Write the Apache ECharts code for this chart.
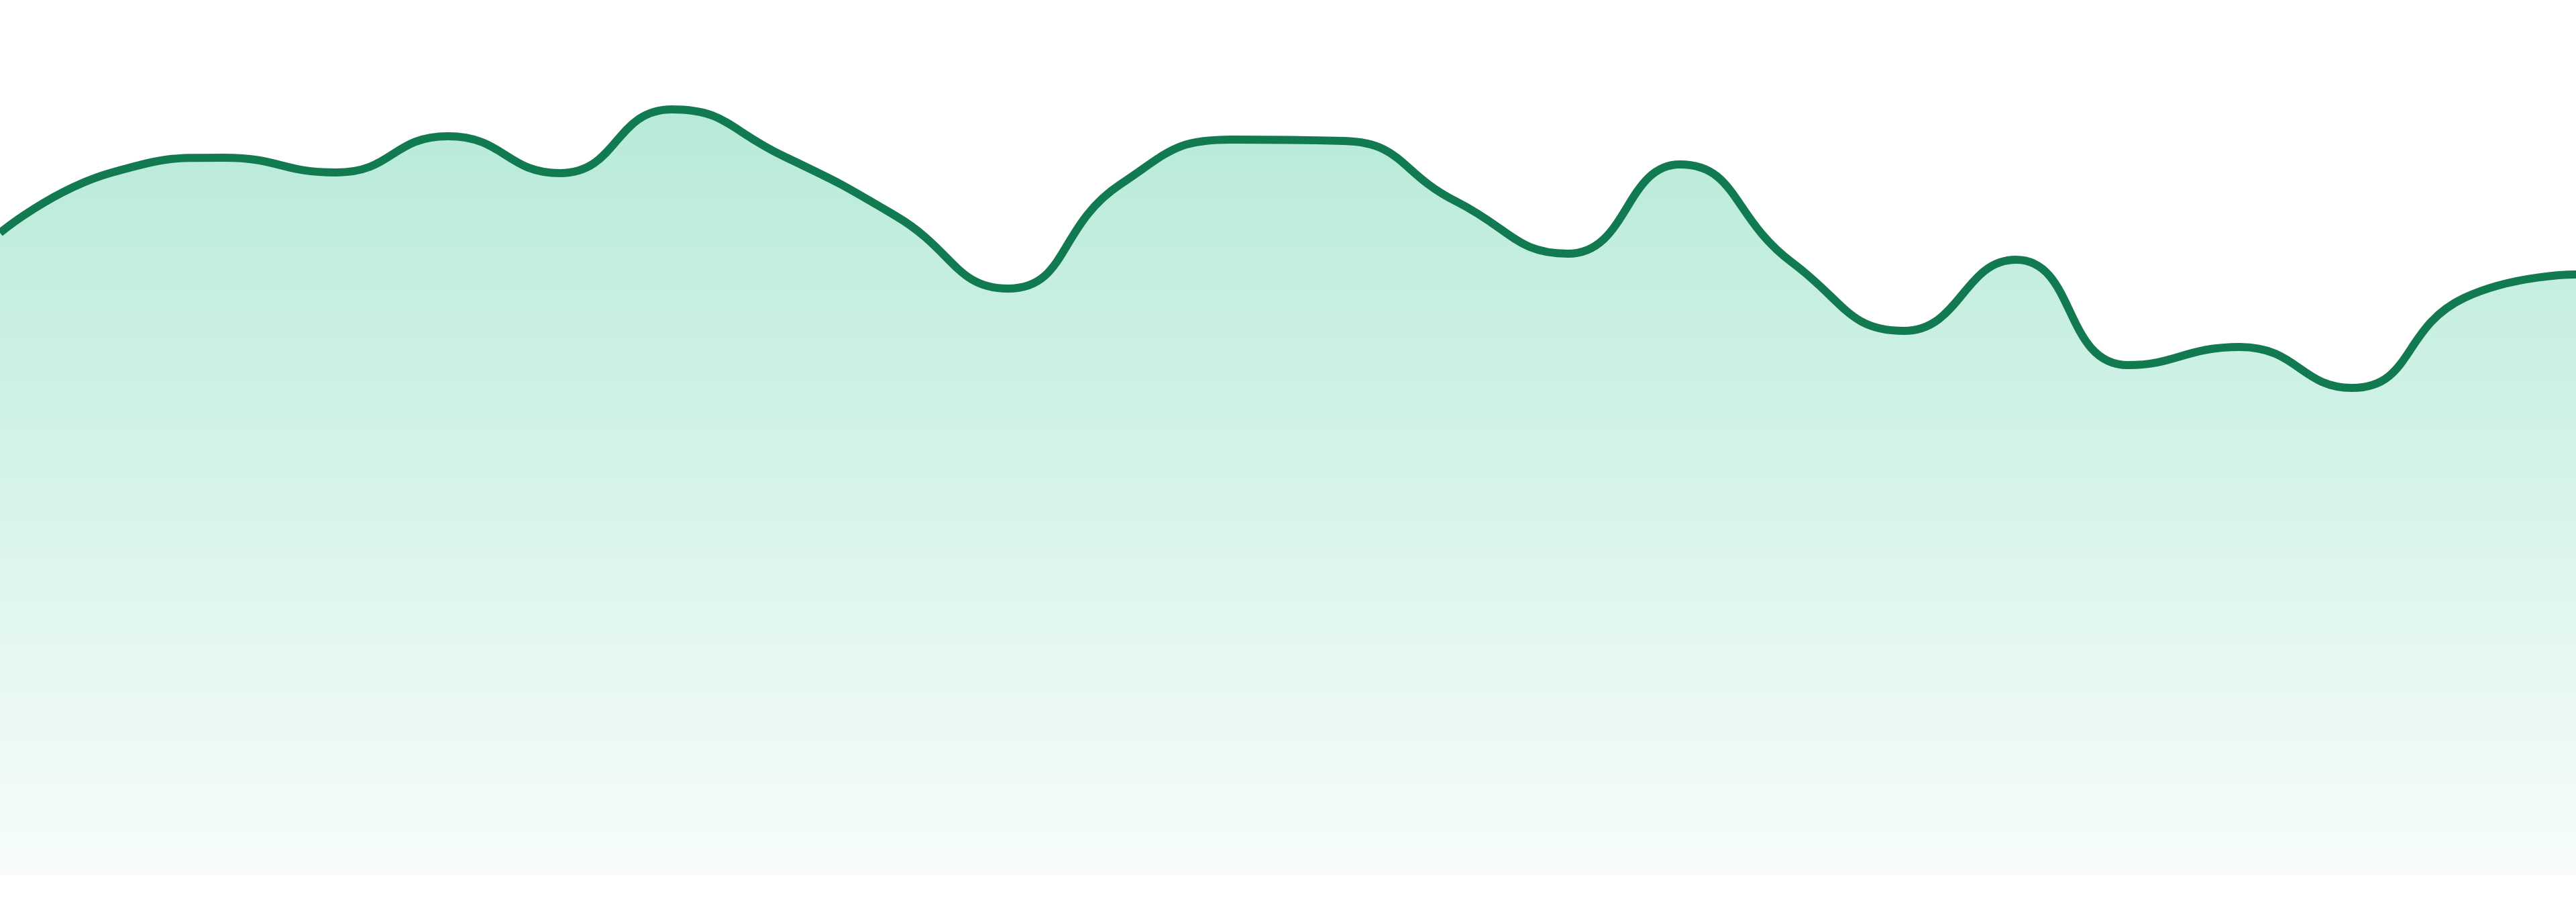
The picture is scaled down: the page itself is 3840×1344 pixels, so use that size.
<!DOCTYPE html>
<html>
<head>
<meta charset="utf-8">
<style>
html,body{margin:0;padding:0;background:#ffffff;}
#chart{width:3840px;height:1344px;}
</style>
<script src="https://cdn.jsdelivr.net/npm/echarts@6/dist/echarts.min.js"></script>
</head>
<body>
<div id="chart"></div>
<script>
var categories = ["1","2","3","4","5","6","7","8","9","10","11","12","13","14","15","16","17","18","19","20","21","22","23","24"];
var values = [95.7,104.7,106.9,104.7,110.1,104.6,114.1,107.1,98.2,87.4,102.9,109.6,109.4,100.4,92.6,105.9,91.3,81.1,91.7,76.0,78.7,72.6,86.0,89.5];
var lineColor = "#127a50";
var chart = echarts.init(document.getElementById("chart"));
chart.setOption({
  animation:false,
  backgroundColor:"#ffffff",
  grid:{left:0,right:0,top:0,bottom:40},
  xAxis:{type:"category",data:categories,boundaryGap:false,show:false},
  yAxis:{type:"value",min:0,max:130.4,show:false},
  series:[{
    type:"line",
    data:values,
    smooth:true,
    symbol:"none",
    lineStyle:{color:lineColor,width:12},
    areaStyle:{
      opacity:1,
      color:new echarts.graphic.LinearGradient(0,0,0,1,[
        {offset:0,color:"rgba(16,185,129,0.30)"},
        {offset:1,color:"rgba(16,185,129,0.03)"}
      ])
    }
  }]
});
</script>
</body>
</html>
